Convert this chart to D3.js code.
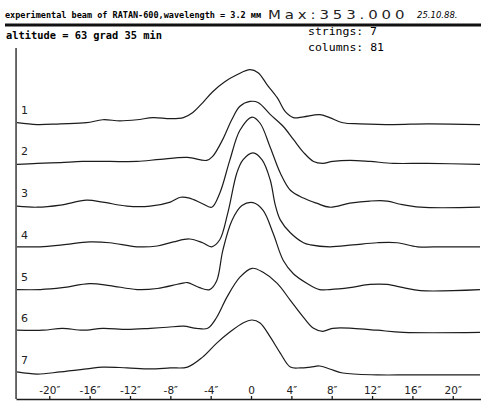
<!DOCTYPE html>
<html>
<head>
<meta charset="utf-8">
<script src="https://cdn.jsdelivr.net/npm/d3@7"></script>
<style>
  body { margin: 0; background: #fff; }
  .curve { fill: none; stroke: #1c1c1c; stroke-width: 1.2; stroke-linejoin: round; }
  .frame { fill: #1c1c1c; }
  .axis path, .axis line { stroke: #1c1c1c; stroke-width: 1.3; }
  .axis text { font-family: "DejaVu Sans", sans-serif; font-size: 10.5px; fill: #222; }
</style>
</head>
<body>
<div id="chart"></div>
<script>
// Data: [arcsec, counts] per string
const string1 = [[-23.2,0],[-21.2,-7],[-18.9,-4],[-16.3,0],[-14.7,11],[-13.0,7],[-11.3,11],[-9.7,19],[-8.0,15],[-6.7,19],[-5.8,37],[-4.8,74],[-3.8,115],[-2.6,152],[-1.4,178],[-0.1,197],[0.7,186],[1.6,141],[2.6,93],[3.4,41],[4.2,19],[5.2,22],[6.8,30],[7.8,19],[9.1,0],[10.8,-4],[14.1,-7],[17.5,-4],[22.7,-7]];
const string2 = [[-23.2,0],[-21.2,4],[-18.9,7],[-16.7,11],[-14.0,11],[-11.3,11],[-9.0,19],[-6.3,26],[-4.4,15],[-3.8,30],[-2.8,93],[-1.9,167],[-1.1,216],[-0.1,234],[0.7,230],[1.9,186],[3.2,141],[4.2,93],[5.2,45],[6.2,11],[7.1,4],[8.1,11],[9.8,15],[11.8,11],[14.1,4],[17.5,4],[22.7,0]];
const string3 = [[-23.2,0],[-21.2,-4],[-18.9,4],[-16.3,22],[-14.7,15],[-12.3,0],[-10.0,0],[-8.0,15],[-7.0,33],[-6.1,30],[-4.9,11],[-3.9,-4],[-3.1,48],[-2.1,171],[-1.1,282],[0.1,331],[0.9,308],[1.9,219],[2.9,123],[3.9,59],[5.2,30],[6.5,11],[7.8,-4],[9.8,11],[11.8,19],[13.5,19],[14.8,7],[16.8,-4],[22.7,-4]];
const string4 = [[-23.2,4],[-20.9,4],[-18.7,11],[-16.0,22],[-14.0,19],[-11.3,4],[-9.3,7],[-7.7,22],[-6.1,33],[-4.8,19],[-3.9,4],[-3.1,30],[-2.3,130],[-1.4,279],[-0.8,327],[0.2,353],[1.1,327],[1.9,253],[2.4,160],[2.9,104],[3.9,56],[5.2,19],[5.9,11],[7.8,4],[10.1,11],[12.5,19],[14.5,19],[16.5,4],[19.0,4],[22.7,4]];
const string5 = [[-23.2,0],[-20.9,0],[-18.7,7],[-16.0,22],[-14.0,15],[-11.3,0],[-9.3,4],[-7.0,22],[-6.3,26],[-5.1,7],[-4.1,0],[-3.4,33],[-2.8,145],[-1.9,256],[-0.9,312],[0.2,323],[1.2,294],[2.2,208],[3.2,108],[4.2,59],[5.6,22],[6.8,0],[7.8,0],[9.8,7],[11.8,19],[13.5,19],[15.1,7],[16.8,-4],[22.7,0]];
const string6 = [[-23.2,4],[-20.6,4],[-18.7,11],[-16.7,4],[-14.7,11],[-12.3,7],[-10.0,11],[-8.3,15],[-6.7,19],[-5.4,11],[-4.3,11],[-3.4,52],[-2.4,126],[-1.1,201],[0.1,234],[1.2,219],[2.6,178],[3.9,115],[5.2,52],[6.2,11],[7.1,0],[8.1,11],[10.1,11],[12.5,4],[15.1,-4],[22.7,-4]];
const string7 = [[-23.2,4],[-21.2,-4],[-18.9,4],[-16.3,15],[-14.7,22],[-12.3,19],[-10.0,15],[-8.0,19],[-6.3,22],[-4.8,59],[-3.4,111],[-2.1,152],[-0.8,186],[0.1,197],[0.9,186],[1.9,134],[2.9,74],[3.9,22],[4.9,19],[5.9,22],[6.8,26],[7.8,15],[9.1,0],[12.5,-7],[15.8,-7],[22.7,-7]];

const strings = [string1, string2, string3, string4, string5, string6, string7];
const stringLabels = ["1", "2", "3", "4", "5", "6", "7"];
const tickValues = [-20, -16, -12, -8, -4, 0, 4, 8, 12, 16, 20];
const tickLabels = ["-20″", "-16″", "-12″", "-8″", "-4″", "0", "4″", "8″", "12″", "16″", "20″"];
const maxValue = 353;
const stringStep = 155; // vertical offset between strings, in counts

const dimensions = {
  width: 481,
  height: 408,
  left: 16,
  right: 481,
  bottom: 399,
  top: 48,
};

const svg = d3.select("#chart")
  .append("svg")
  .attr("width", dimensions.width)
  .attr("height", dimensions.height)
  .style("display", "block");

// Scales
const xScale = d3.scaleLinear()
  .domain([-23.3, 22.8])
  .range([dimensions.left, dimensions.right]);

const yScale = d3.scaleLinear()
  .domain([0, maxValue])
  .range([373, 278]);

// Header texts
const mono = '"DejaVu Sans Mono", monospace';
const sans = '"DejaVu Sans", sans-serif';

svg.append("text")
  .attr("x", 5).attr("y", 18)
  .attr("font-family", mono).attr("font-size", 8.4).attr("font-weight", "bold")
  .attr("textLength", 256).attr("lengthAdjust", "spacingAndGlyphs")
  .text("experimental beam of RATAN-600,wavelength = 3.2 мм");

svg.append("text")
  .attr("transform", "translate(268, 18.5) scale(1.3, 1)")
  .attr("font-family", sans).attr("font-size", 11.5)
  .attr("fill", "#222")
  .attr("textLength", 105).attr("lengthAdjust", "spacing")
  .text("Max:353.000");

svg.append("text")
  .attr("x", 417).attr("y", 18)
  .attr("font-family", sans).attr("font-size", 8.5)
  .attr("font-style", "italic")
  .text("25.10.88.");

svg.append("text")
  .attr("x", 6).attr("y", 39)
  .attr("font-family", mono).attr("font-size", 10).attr("font-weight", "bold")
  .attr("textLength", 156).attr("lengthAdjust", "spacingAndGlyphs")
  .text("altitude = 63 grad 35 min");

svg.append("text")
  .attr("x", 308).attr("y", 35)
  .attr("font-family", mono).attr("font-size", 10.5)
  .attr("textLength", 69).attr("lengthAdjust", "spacingAndGlyphs")
  .text("strings: 7");

svg.append("text")
  .attr("x", 308).attr("y", 51)
  .attr("font-family", mono).attr("font-size", 10.5)
  .attr("textLength", 76).attr("lengthAdjust", "spacingAndGlyphs")
  .text("columns: 81");

// Left frame line
svg.append("rect")
  .attr("class", "frame")
  .attr("x", dimensions.left - 0.6).attr("y", dimensions.top)
  .attr("width", 1.3).attr("height", dimensions.bottom - dimensions.top);

// Curves
const line = d3.line()
  .x((d) => xScale(d[0]))
  .curve(d3.curveCatmullRom.alpha(0.5));

const ctr = svg.append("g");

strings.forEach((s, i) => {
  const offset = (strings.length - 1 - i) * stringStep;
  ctr.append("path")
    .datum(s)
    .attr("class", "curve")
    .attr("d", line.y((d) => yScale(d[1] + offset)));

  ctr.append("text")
    .attr("x", 21)
    .attr("y", yScale(offset) - 9)
    .attr("font-family", sans)
    .attr("font-size", 11)
    .attr("fill", "#222")
    .text(stringLabels[i]);
});

// X axis
const bottomAxis = d3.axisBottom(xScale)
  .tickValues(tickValues)
  .tickFormat((d, i) => tickLabels[i])
  .tickSizeInner(-3)
  .tickSizeOuter(0)
  .tickPadding(-12);

svg.append("g")
  .attr("class", "axis")
  .attr("transform", `translate(0, ${dimensions.bottom})`)
  .call(bottomAxis);

// top rule under the title
svg.append("line")
  .attr("x1", 5).attr("x2", 481)
  .attr("y1", 25).attr("y2", 25)
  .attr("stroke", "#111")
  .attr("stroke-width", 3);
</script>
</body>
</html>
